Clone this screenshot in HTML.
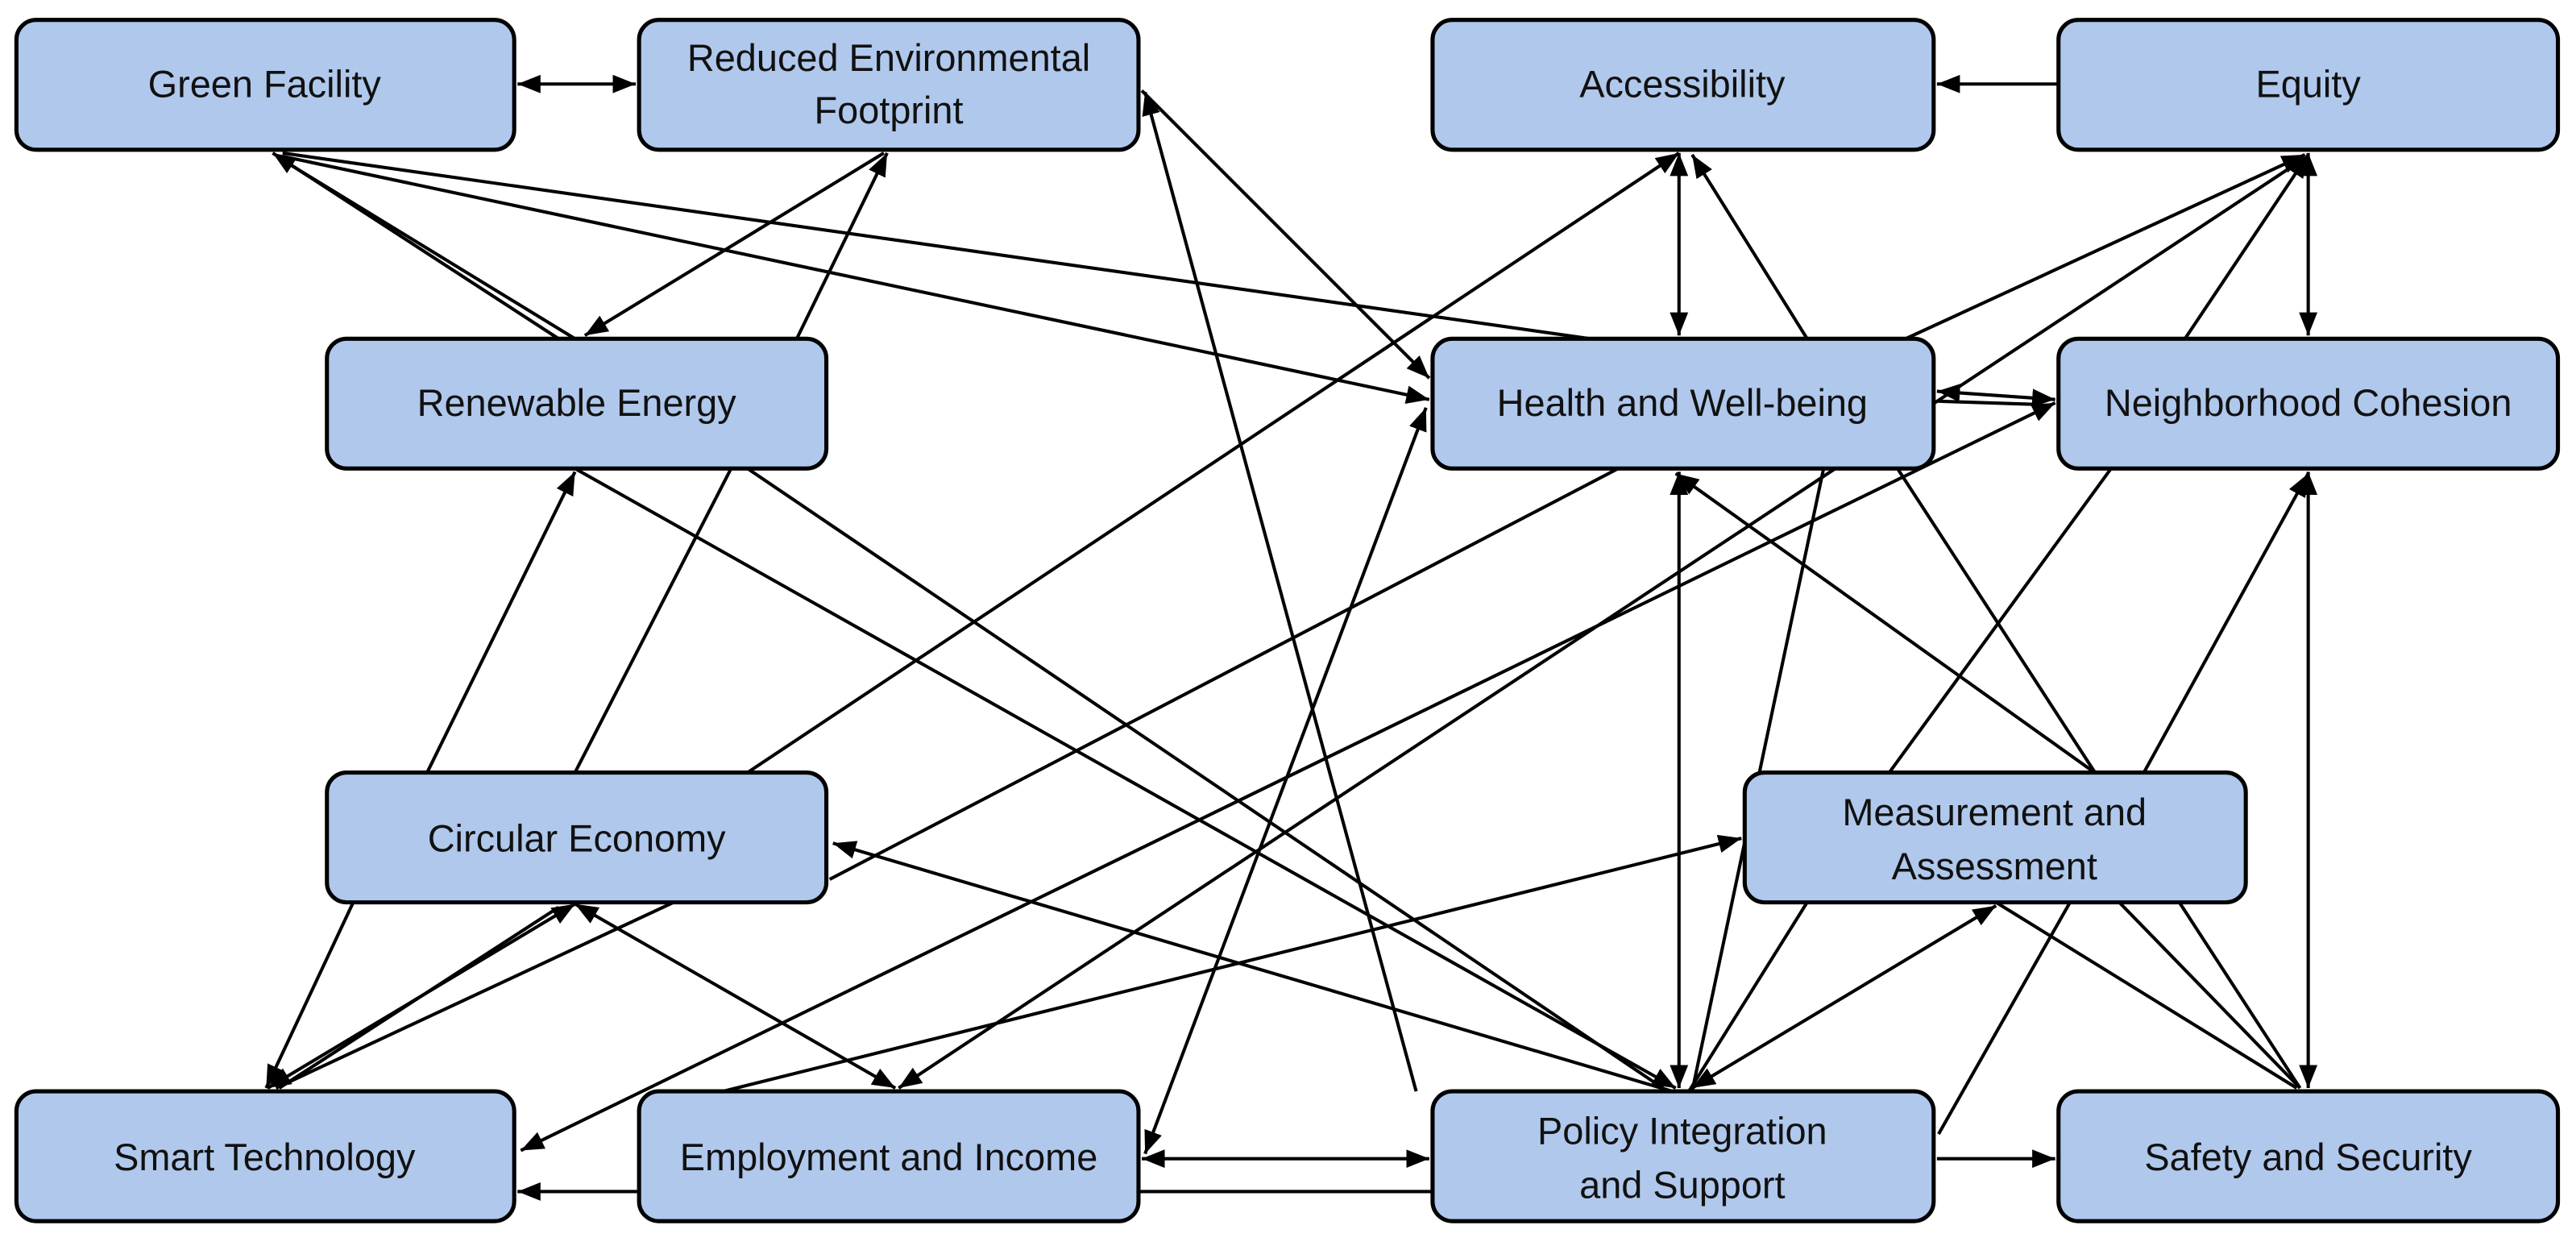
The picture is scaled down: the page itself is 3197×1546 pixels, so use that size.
<!DOCTYPE html>
<html><head><meta charset="utf-8"><style>
html,body{margin:0;padding:0;background:#fff;}
svg{display:block;}
text{font-family:"Liberation Sans Narrow","Liberation Sans",sans-serif;font-size:23px;fill:#111;text-anchor:middle;}
</style></head><body>
<svg width="3197" height="1546" viewBox="0 0 1568 758" xmlns="http://www.w3.org/2000/svg">
<defs>
<marker id="a" viewBox="0 0 10 10" refX="10" refY="5" markerWidth="7" markerHeight="7" markerUnits="userSpaceOnUse" orient="auto-start-reverse"><path d="M0,0 L10,5 L0,10 z" fill="#000"/></marker>
<marker id="b" viewBox="0 0 10 10" refX="10" refY="5" markerWidth="14" markerHeight="14" markerUnits="userSpaceOnUse" orient="auto-start-reverse"><path d="M0,1 L10,5 L0,9 z" fill="#000"/></marker>
</defs>
<g stroke="#000" stroke-width="2" fill="none">
<line x1="315" y1="51" x2="387" y2="51" marker-start="url(#b)" marker-end="url(#b)"/>
<line x1="340" y1="206" x2="166" y2="93" marker-end="url(#b)"/>
<line x1="350" y1="206" x2="170" y2="96"/>
<line x1="538" y1="93" x2="356" y2="204" marker-end="url(#b)"/>
<line x1="485" y1="206" x2="540" y2="93" marker-end="url(#b)"/>
<line x1="172" y1="95" x2="870" y2="243" marker-end="url(#b)"/>
<line x1="172" y1="93" x2="968" y2="206"/>
<line x1="695" y1="55" x2="870" y2="230" marker-end="url(#b)"/>
<line x1="862" y1="664" x2="697" y2="56" marker-end="url(#b)"/>
<line x1="1253" y1="51" x2="1179" y2="51" marker-end="url(#b)"/>
<line x1="1022" y1="93" x2="1022" y2="204" marker-start="url(#b)" marker-end="url(#b)"/>
<line x1="1100" y1="206" x2="1030" y2="94" marker-end="url(#b)"/>
<line x1="455" y1="470" x2="1022" y2="93" marker-end="url(#b)"/>
<line x1="1179" y1="238" x2="1251" y2="243" marker-start="url(#b)" marker-end="url(#b)"/>
<line x1="1179" y1="244" x2="1240" y2="246"/>
<line x1="1405" y1="93" x2="1405" y2="204" marker-start="url(#b)" marker-end="url(#b)"/>
<line x1="1330" y1="206" x2="1405" y2="94" marker-end="url(#b)"/>
<line x1="1160" y1="206" x2="1403" y2="94" marker-end="url(#b)"/>
<line x1="1403" y1="96" x2="547" y2="662" marker-end="url(#b)"/>
<line x1="985" y1="285" x2="505" y2="535"/>
<line x1="1251" y1="245" x2="317" y2="700" marker-start="url(#b)" marker-end="url(#b)"/>
<line x1="872" y1="725" x2="315" y2="725" marker-end="url(#b)"/>
<line x1="695" y1="705" x2="870" y2="705" marker-start="url(#b)" marker-end="url(#b)"/>
<line x1="440" y1="664" x2="1060" y2="510" marker-end="url(#b)"/>
<line x1="697" y1="702" x2="868" y2="248" marker-start="url(#b)" marker-end="url(#b)"/>
<line x1="350" y1="550" x2="545" y2="662" marker-start="url(#b)" marker-end="url(#b)"/>
<line x1="350" y1="550" x2="163" y2="662" marker-start="url(#b)" marker-end="url(#b)"/>
<line x1="340" y1="552" x2="170" y2="662"/>
<line x1="215" y1="549" x2="162" y2="662" marker-end="url(#b)"/>
<line x1="410" y1="549" x2="168" y2="662"/>
<line x1="260" y1="470" x2="350" y2="287" marker-end="url(#b)"/>
<line x1="350" y1="470" x2="445" y2="285"/>
<line x1="350" y1="285" x2="1020" y2="662" marker-end="url(#b)"/>
<line x1="455" y1="285" x2="1015" y2="664"/>
<line x1="1022" y1="662" x2="1022" y2="287" marker-start="url(#b)" marker-end="url(#b)"/>
<line x1="1018" y1="664" x2="507" y2="513" marker-end="url(#b)"/>
<line x1="1030" y1="662" x2="1215" y2="551" marker-start="url(#b)" marker-end="url(#b)"/>
<line x1="1100" y1="549" x2="1028" y2="664"/>
<line x1="1275" y1="470" x2="1020" y2="288" marker-end="url(#b)"/>
<line x1="1150" y1="470" x2="1285" y2="285"/>
<line x1="1110" y1="285" x2="1030" y2="664"/>
<line x1="1155" y1="285" x2="1400" y2="662"/>
<line x1="1215" y1="549" x2="1398" y2="662"/>
<line x1="1290" y1="549" x2="1400" y2="662"/>
<line x1="1405" y1="662" x2="1405" y2="287" marker-start="url(#b)" marker-end="url(#b)"/>
<line x1="1305" y1="470" x2="1405" y2="288" marker-end="url(#b)"/>
<line x1="1179" y1="705" x2="1251" y2="705" marker-end="url(#b)"/>
<line x1="1180" y1="690" x2="1260" y2="549"/>
</g>
<g fill="#b0c8ec" stroke="#000" stroke-width="2.5">
<rect x="10" y="12" width="303" height="79" rx="12"/>
<rect x="389" y="12" width="304" height="79" rx="12"/>
<rect x="872" y="12" width="305" height="79" rx="12"/>
<rect x="1253" y="12" width="304" height="79" rx="12"/>
<rect x="199" y="206" width="304" height="79" rx="12"/>
<rect x="872" y="206" width="305" height="79" rx="12"/>
<rect x="1253" y="206" width="304" height="79" rx="12"/>
<rect x="199" y="470" width="304" height="79" rx="12"/>
<rect x="1062" y="470" width="305" height="79" rx="12"/>
<rect x="10" y="664" width="303" height="79" rx="12"/>
<rect x="389" y="664" width="304" height="79" rx="12"/>
<rect x="872" y="664" width="305" height="79" rx="12"/>
<rect x="1253" y="664" width="304" height="79" rx="12"/>
</g>
<text x="161" y="59">Green Facility</text>
<text x="541" y="43">Reduced Environmental</text>
<text x="541" y="75">Footprint</text>
<text x="1024" y="59">Accessibility</text>
<text x="1405" y="59">Equity</text>
<text x="351" y="253">Renewable Energy</text>
<text x="1024" y="253">Health and Well-being</text>
<text x="1405" y="253">Neighborhood Cohesion</text>
<text x="351" y="518">Circular Economy</text>
<text x="1214" y="502">Measurement and</text>
<text x="1214" y="535">Assessment</text>
<text x="161" y="712">Smart Technology</text>
<text x="541" y="712">Employment and Income</text>
<text x="1024" y="696">Policy Integration</text>
<text x="1024" y="729">and Support</text>
<text x="1405" y="712">Safety and Security</text>
</svg>
</body></html>
